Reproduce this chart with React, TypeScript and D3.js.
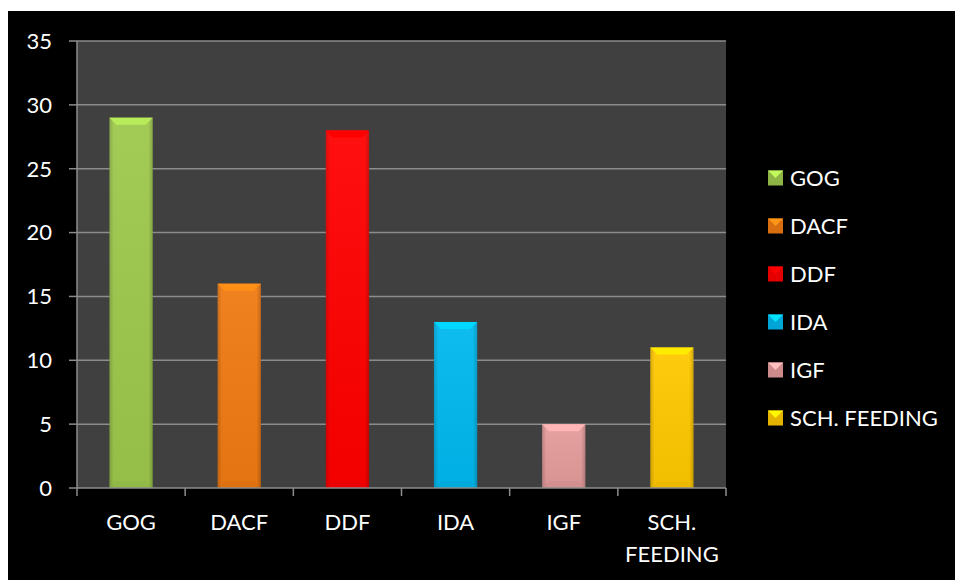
import React from "react";
import * as d3 from "d3";

const categories = ["GOG", "DACF", "DDF", "IDA", "IGF", "SCH. FEEDING"];
const values = [29, 16, 28, 13, 5, 11];
const colors = ["#9dc84c", "#f07a12", "#ff0000", "#00b8ef", "#e49b9b", "#ffc800"];
const yTicks = [0, 5, 10, 15, 20, 25, 30, 35];
const xLabelLines = [["GOG"], ["DACF"], ["DDF"], ["IDA"], ["IGF"], ["SCH.", "FEEDING"]];

const FONT = "Lato, 'Open Sans', sans-serif";

export default function App() {
  const left = 77, right = 726, top = 41, bottom = 488;
  const x = d3.scaleBand<string>().domain(categories).range([left, right]).paddingInner(0.6).paddingOuter(0.3);
  const xBand = d3.scaleBand<string>().domain(categories).range([left, right]);
  const y = d3.scaleLinear().domain([0, 35]).range([bottom, top]);
  const bw = x.bandwidth();
  const bev = 7;

  return (
    <div style={{ position: "fixed", left: 0, top: 0 }}>
      <svg width={955} height={580} style={{ display: "block" }}>
        <defs>
          {colors.map((c, i) => {
            const base = d3.color(c)!;
            return (
              <linearGradient key={i} id={`g${i}`} x1="0" x2="1" y1="0" y2="0">
                <stop offset="0" stopColor={base.darker(0.5).toString()} />
                <stop offset="0.1" stopColor={c} />
                <stop offset="0.9" stopColor={c} />
                <stop offset="1" stopColor={base.darker(0.6).toString()} />
              </linearGradient>
            );
          })}
          {colors.map((c, i) => (
            <linearGradient key={"v" + i} id={`v${i}`} x1="0" x2="0" y1="0" y2="1">
              <stop offset="0" stopColor="#ffffff" stopOpacity={0.06} />
              <stop offset="1" stopColor="#000000" stopOpacity={0.05} />
            </linearGradient>
          ))}
        </defs>
        <rect x={0} y={0} width={955} height={580} fill="#ffffff" />
        <rect x={8} y={11} width={947} height={569} fill="#000000" />
        <rect x={left} y={top} width={right - left} height={bottom - top} fill="#404040" />
        {yTicks.map((t) => (
          <g key={t}>
            {t > 0 && (
              <line x1={left} x2={right} y1={y(t)} y2={y(t)} stroke="#8c8c8c" strokeWidth={1.5} />
            )}
            <line x1={left - 8} x2={left} y1={y(t)} y2={y(t)} stroke="#8c8c8c" strokeWidth={1.5} />
            <text x={52} y={y(t)} dy="0.36em" textAnchor="end" fill="#ffffff" fontFamily={FONT} fontSize={22}>
              {t}
            </text>
          </g>
        ))}
        <line x1={left} x2={left} y1={top} y2={bottom} stroke="#8c8c8c" strokeWidth={1.5} />
        {categories.map((c, i) => {
          const x0 = x(c)!;
          const y0 = y(values[i]);
          const h = bottom - y0;
          const base = d3.color(colors[i])!;
          const light = base.brighter(0.45).toString();
          const dark = base.darker(0.35).toString();
          return (
            <g key={c}>
              <rect x={x0} y={y0} width={bw} height={h} fill={`url(#g${i})`} />
              <rect x={x0} y={y0} width={bw} height={h} fill={`url(#v${i})`} />
              <path
                d={`M${x0},${y0}L${x0 + bw},${y0}L${x0 + bw - bev},${y0 + bev}L${x0 + bev},${y0 + bev}Z`}
                fill={light}
              />
              <path
                d={`M${x0},${bottom}L${x0 + bw},${bottom}L${x0 + bw - bev},${bottom - bev}L${x0 + bev},${bottom - bev}Z`}
                fill={dark}
                opacity={0.4}
              />
            </g>
          );
        })}
        <line x1={left} x2={right} y1={bottom} y2={bottom} stroke="#8c8c8c" strokeWidth={1.5} />
        {categories.map((c) => (
          <line key={"t" + c} x1={xBand(c)!} x2={xBand(c)!} y1={bottom} y2={bottom + 8} stroke="#8c8c8c" strokeWidth={1.5} />
        ))}
        <line x1={right} x2={right} y1={bottom} y2={bottom + 8} stroke="#8c8c8c" strokeWidth={1.5} />
        {categories.map((c, i) => (
          <text key={"l" + c} x={xBand(c)! + xBand.bandwidth() / 2} y={530} textAnchor="middle" fill="#ffffff" fontFamily={FONT} fontSize={22}>
            {xLabelLines[i].map((ln, k) => (
              <tspan key={k} x={xBand(c)! + xBand.bandwidth() / 2} dy={k === 0 ? 0 : 32}>
                {ln}
              </tspan>
            ))}
          </text>
        ))}
        {categories.map((c, i) => {
          const cy = 178 + i * 48;
          const base = d3.color(colors[i])!;
          return (
            <g key={"lg" + c}>
              <rect x={768} y={cy - 7.5} width={15} height={15} fill={base.darker(0.3).toString()} />
              <path d={`M768,${cy - 7.5}L783,${cy - 7.5}L775.5,${cy}Z`} fill={base.brighter(0.6).toString()} />
              <text x={790} y={cy} dy="0.36em" fill="#ffffff" fontFamily={FONT} fontSize={22}>
                {c}
              </text>
            </g>
          );
        })}
      </svg>
    </div>
  );
}
